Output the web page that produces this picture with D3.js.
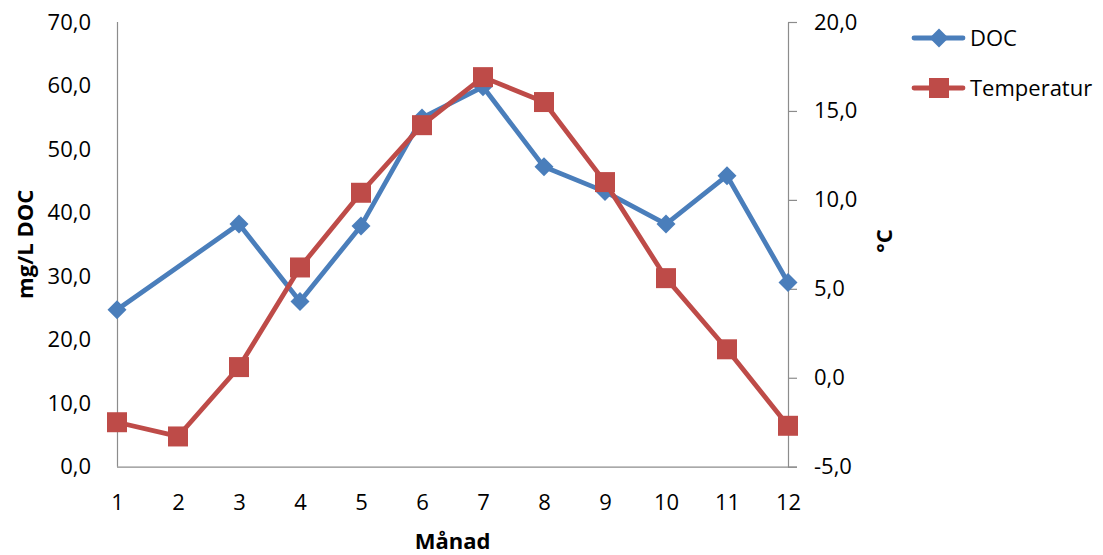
<!DOCTYPE html>
<html>
<head>
<meta charset="utf-8">
<script src="https://cdn.jsdelivr.net/npm/d3@7"></script>
<style>
  html, body { margin: 0; padding: 0; background: #fff; }
  svg { display: block; font-family: "Open Sans", "Noto Sans", sans-serif; }
</style>
</head>
<body>
<svg id="chart" width="1103" height="555"></svg>
<script>
const months = [1, 2, 3, 4, 5, 6, 7, 8, 9, 10, 11, 12];
const docValues = [24.7, null, 38.2, 26.0, 37.9, 54.9, 59.8, 47.2, 43.3, 38.2, 45.8, 29.0];
const tempValues = [-2.5, -3.3, 0.6, 6.2, 10.4, 14.2, 16.9, 15.5, 11.0, 5.6, 1.6, -2.7];
const leftTicks = [0, 10, 20, 30, 40, 50, 60, 70];
const rightTicks = [-5, 0, 5, 10, 15, 20];
const seriesNames = ["DOC", "Temperatur"];
const xTitle = "Månad";
const yLeftTitle = "mg/L DOC";
const yRightTitle = "°C";

const blue = "#4A7EBB";
const red = "#BE4B48";
const axisColor = "#8C8C8C";
const fmt = v => d3.format(".1f")(v).replace(".", ",").replace("−", "-");

const svg = d3.select("#chart");
const x = d3.scalePoint().domain(months).range([117, 788]);
const yL = d3.scaleLinear().domain([0, 70]).range([466.7, 22]);
const yR = d3.scaleLinear().domain([-5, 20]).range([466.7, 22]);

const fontSize = 22;

// Left axis
const gL = svg.append("g").attr("transform", `translate(${x(1)},0)`)
  .call(d3.axisLeft(yL).tickValues(leftTicks).tickFormat(fmt).tickSize(0).tickPadding(26));
// Right axis
const gR = svg.append("g").attr("transform", `translate(${x(12)},0)`)
  .call(d3.axisRight(yR).tickValues(rightTicks).tickFormat(fmt).tickSize(9).tickSizeOuter(0).tickPadding(17));
// Bottom axis
const gB = svg.append("g").attr("transform", `translate(0,${yL(0)})`)
  .call(d3.axisBottom(x).tickSize(0).tickPadding(0));
gB.selectAll("text").attr("y", 36).attr("dy", "0.35em");

[gL, gR, gB].forEach(g => {
  g.selectAll(".domain").attr("stroke", axisColor).attr("stroke-width", 1.2);
  g.selectAll(".tick line").attr("stroke", axisColor).attr("stroke-width", 1.2);
  g.selectAll("text").attr("fill", "#000").style("font-size", fontSize + "px")
    .style("font-family", '"Open Sans", sans-serif');
});
gB.select(".domain").attr("d", `M${x(1)},0.5H${x(12) + 9}`);
gL.select(".domain").attr("d", `M0.5,${yL(70)}V${yL(0)}`);

// Titles
svg.append("text").attr("x", (x(1) + x(12)) / 2).attr("y", 541).attr("dy", "0.35em")
  .attr("text-anchor", "middle").style("font-weight", "bold").style("font-size", fontSize + "px")
  .text(xTitle);
svg.append("text").attr("transform", `translate(25,${(yL(0) + yL(70)) / 2}) rotate(-90)`)
  .attr("dy", "0.35em").attr("text-anchor", "middle").style("font-weight", "bold")
  .style("font-size", fontSize + "px").text(yLeftTitle);
svg.append("text").attr("transform", `translate(884,241) rotate(-90)`)
  .attr("dy", "0.35em").attr("text-anchor", "middle").style("font-weight", "bold")
  .style("font-size", fontSize + "px").text(yRightTitle);

// Marker paths
const diamond = (cx, cy, r) => `M${cx},${cy - r}L${cx + r},${cy}L${cx},${cy + r}L${cx - r},${cy}Z`;
const square = (cx, cy, h) => `M${cx - h},${cy - h}H${cx + h}V${cy + h}H${cx - h}Z`;

// DOC series
const docData = months.map((m, i) => ({ m, v: docValues[i] })).filter(d => d.v !== null);
const lineL = d3.line().x(d => x(d.m)).y(d => yL(d.v));
svg.append("path").datum(docData).attr("d", lineL).attr("fill", "none")
  .attr("stroke", blue).attr("stroke-width", 4.8).attr("stroke-linejoin", "round").attr("stroke-linecap", "round");
svg.append("g").selectAll("path").data(docData).join("path")
  .attr("d", d => diamond(x(d.m), yL(d.v), 9.5)).attr("fill", blue);

// Temperature series
const tempData = months.map((m, i) => ({ m, v: tempValues[i] }));
const lineR = d3.line().x(d => x(d.m)).y(d => yR(d.v));
svg.append("path").datum(tempData).attr("d", lineR).attr("fill", "none")
  .attr("stroke", red).attr("stroke-width", 4.8).attr("stroke-linejoin", "round").attr("stroke-linecap", "round");
svg.append("g").selectAll("path").data(tempData).join("path")
  .attr("d", d => square(x(d.m), yR(d.v), 10)).attr("fill", red);

// Legend
const legend = svg.append("g");
const legendItems = [
  { name: seriesNames[0], color: blue, y: 38, marker: (cx, cy) => diamond(cx, cy, 9.5) },
  { name: seriesNames[1], color: red, y: 88, marker: (cx, cy) => square(cx, cy, 10) }
];
legendItems.forEach(it => {
  legend.append("line").attr("x1", 914).attr("x2", 963).attr("y1", it.y).attr("y2", it.y)
    .attr("stroke", it.color).attr("stroke-width", 4.8).attr("stroke-linecap", "round");
  legend.append("path").attr("d", it.marker(939, it.y)).attr("fill", it.color);
  legend.append("text").attr("x", 970).attr("y", it.y).attr("dy", "0.35em")
    .style("font-size", fontSize + "px").text(it.name);
});
</script>
</body>
</html>
